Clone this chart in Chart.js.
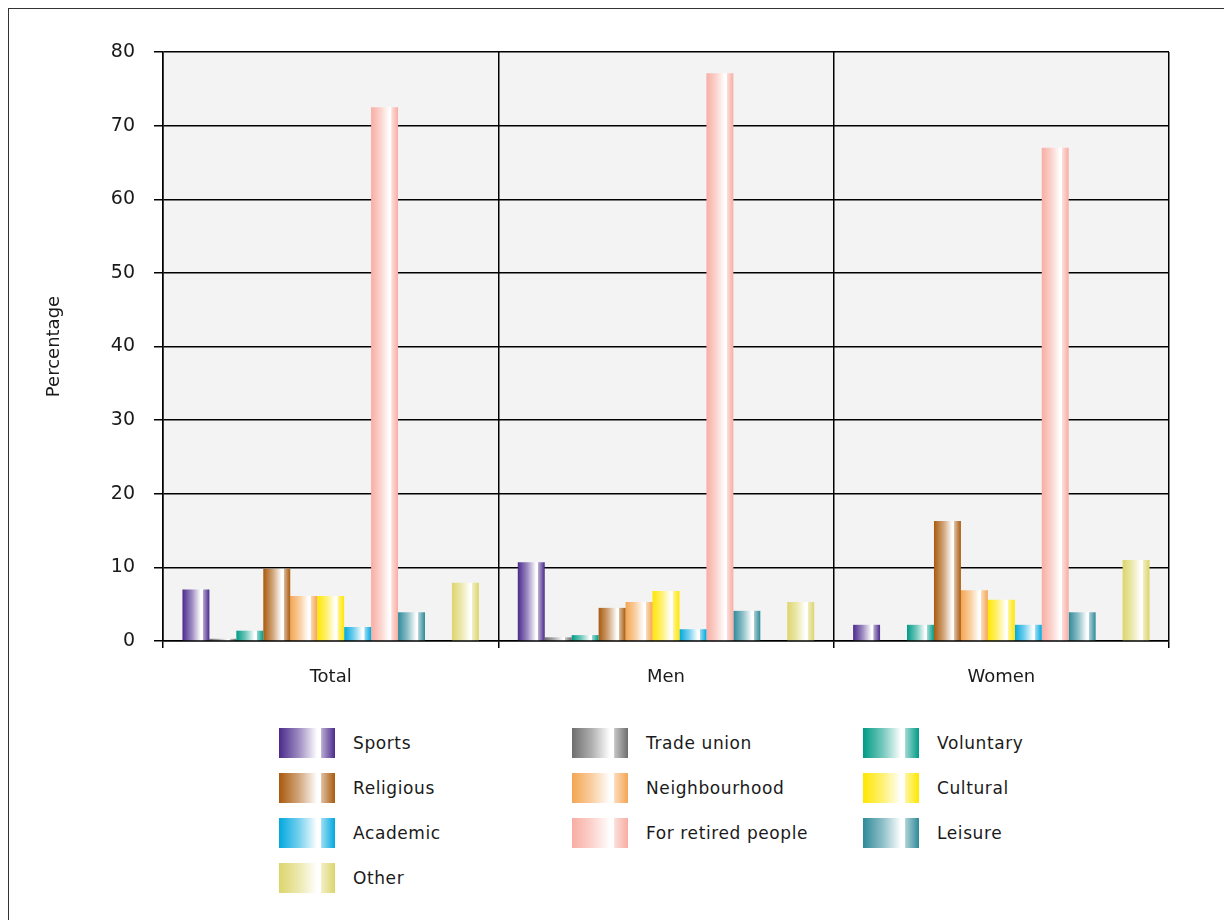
<!DOCTYPE html>
<html>
<head>
<meta charset="utf-8">
<script src="https://cdn.jsdelivr.net/npm/chart.js@4"></script>
<style>
body{margin:0;background:#fff;width:1224px;height:920px;overflow:hidden;position:relative;font-family:"DejaVu Sans",sans-serif;}
#frame{position:absolute;left:8px;top:8px;width:1240px;height:940px;border:1.5px solid #333;box-sizing:border-box;}
#chart{position:absolute;left:0;top:0;}
.item{position:absolute;height:30px;display:flex;align-items:center;}
.sw{width:56px;height:30px;}
.lbl{font-size:17px;color:#1a1a1a;letter-spacing:0.6px;margin-left:18px;white-space:nowrap;}
</style>
</head>
<body>
<div id="frame"></div>
<canvas id="chart" width="1224" height="700"></canvas>
<div id="legend"></div>
<script>
let categories = ["Total","Men","Women"];
let seriesNames = ["Sports","Trade union","Voluntary","Religious","Neighbourhood","Cultural","Academic","For retired people","Leisure","Other"];
let seriesColors = ["#4b2a8c","#6e6e6e","#009b86","#a95a0c","#f4a652","#ffe600","#00a8df","#f8ada3","#2f8a99","#dcd56c"];

let sports = [7.0, 10.7, 2.2];
let tradeUnion = [0.3, 0.5, 0];
let voluntary = [1.4, 0.8, 2.2];
let religious = [9.8, 4.5, 16.3];
let neighbourhood = [6.1, 5.3, 6.9];
let cultural = [6.1, 6.8, 5.6];
let academic = [1.9, 1.6, 2.2];
let retired = [72.5, 77.1, 67.0];
let leisure = [3.9, 4.1, 3.9];
let other = [7.9, 5.3, 11.0];
let spacer = [null, null, null]; // empty slot between Leisure and Other

let yTicks = [0,10,20,30,40,50,60,70,80];

function lighten(hex, amt){
let r = parseInt(hex.substr(1,2),16), g = parseInt(hex.substr(3,2),16), b = parseInt(hex.substr(5,2),16);
r = Math.round(r + (255-r)*amt); g = Math.round(g + (255-g)*amt); b = Math.round(b + (255-b)*amt);
return "rgb(" + r + "," + g + "," + b + ")";
}

let values = [sports,tradeUnion,voluntary,religious,neighbourhood,cultural,academic,retired,leisure,spacer,other];
let colorOf = [0,1,2,3,4,5,6,7,8,-1,9];

let datasets = values.map((v,i) => ({
label: colorOf[i] < 0 ? "" : seriesNames[colorOf[i]],
data: v,
baseColor: colorOf[i] < 0 ? "#ffffff" : seriesColors[colorOf[i]],
backgroundColor: colorOf[i] < 0 ? "#ffffff" : seriesColors[colorOf[i]],
borderWidth: 0,
categoryPercentage: 0.884,
barPercentage: 1
}));

// paint each bar with the left-dark / white / right-dark shading
const stripes = {
id: "stripes",
beforeDatasetsDraw(chart){
const ctx = chart.ctx;
chart.data.datasets.forEach((ds,i) => {
chart.getDatasetMeta(i).data.forEach(bar => {
const l = bar.x - bar.width/2, r = bar.x + bar.width/2;
const g = ctx.createLinearGradient(l,0,r,0);
g.addColorStop(0, ds.baseColor);
g.addColorStop(0.35, lighten(ds.baseColor,0.45));
g.addColorStop(0.68, "#ffffff");
g.addColorStop(0.75, "#ffffff");
g.addColorStop(0.76, lighten(ds.baseColor,0.6));
g.addColorStop(1, ds.baseColor);
bar.options = Object.assign({}, bar.options, {backgroundColor: g});
});
});
}
};

const plotBg = {
id: "plotBg",
beforeDraw(chart){
const a = chart.chartArea;
chart.ctx.save();
chart.ctx.fillStyle = "#f3f3f3";
chart.ctx.fillRect(a.left, a.top, a.right-a.left, a.bottom-a.top);
chart.ctx.restore();
}
};

new Chart(document.getElementById("chart"),{
type:"bar",
data:{labels:categories, datasets:datasets},
plugins:[plotBg, stripes],
options:{
responsive:false,
animation:false,
layout:{padding:{left:0,top:52,right:55,bottom:0}},
plugins:{legend:{display:false},tooltip:{enabled:false}},
scales:{
x:{
grid:{color:"#000",lineWidth:1.5,tickLength:7,offset:true},
border:{color:"#000",width:1.5},
ticks:{color:"#1a1a1a",font:{family:"DejaVu Sans",size:18},padding:19},
afterFit(s){ s.height = 59; }
},
y:{
min:0,max:80,
afterBuildTicks(s){ s.ticks = yTicks.map(v => ({value:v})); },
grid:{color:"#000",lineWidth:1.5,tickLength:9},
border:{color:"#000",width:1.5},
ticks:{color:"#1a1a1a",font:{family:"DejaVu Sans",size:19},padding:19},
title:{display:true,text:"Percentage",color:"#1a1a1a",font:{family:"DejaVu Sans",size:18},padding:{top:44,bottom:0}},
afterFit(s){ s.width = 163; }
}
}
}
});

// legend, three columns
let legendX = [279,572,863];
let legendY = [728,773,818,863];
let legend = document.getElementById("legend");
seriesNames.forEach((name,i) => {
let c = seriesColors[i];
let item = document.createElement("div");
item.className = "item";
item.style.left = legendX[i%3] + "px";
item.style.top = legendY[Math.floor(i/3)] + "px";
item.innerHTML = '<div class="sw" style="background:linear-gradient(to right,' + c + ' 0%,' + lighten(c,0.45) + ' 35%,#fff 68%,#fff 75%,' + lighten(c,0.6) + ' 76%,' + c + ' 100%)"></div><span class="lbl">' + name + '</span>';
legend.appendChild(item);
});
</script>
</body>
</html>
